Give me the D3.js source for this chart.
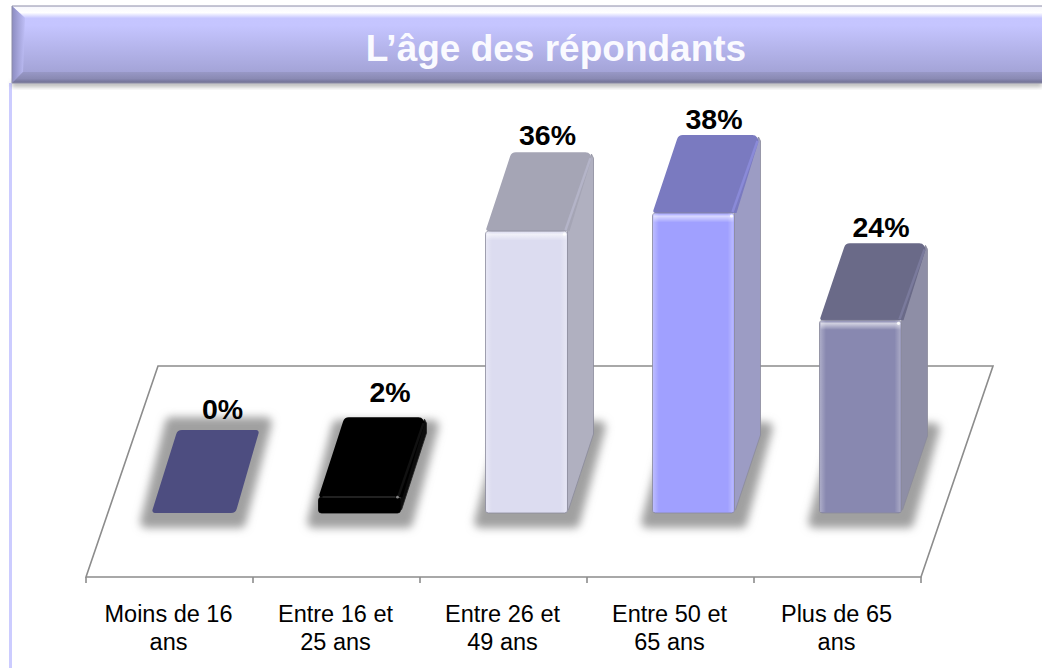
<!DOCTYPE html>
<html>
<head>
<meta charset="utf-8">
<script src="https://cdn.jsdelivr.net/npm/d3@7"></script>
<style>
  html, body { margin: 0; padding: 0; background: #fff; }
  svg { display: block; font-family: "Liberation Sans", Arial, sans-serif; }
</style>
</head>
<body>
<div id="chart"></div>
<script>
// Age of respondents, faux-3D bars on a sheared floor
const titleText = 'L’âge des répondants';
const categories = ['Moins de 16 ans', 'Entre 16 et 25 ans', 'Entre 26 et 49 ans', 'Entre 50 et 65 ans', 'Plus de 65 ans'];
const categoryLines = [['Moins de 16', 'ans'], ['Entre 16 et', '25 ans'], ['Entre 26 et', '49 ans'], ['Entre 50 et', '65 ans'], ['Plus de 65', 'ans']];
const percents = [0, 2, 35.7, 38, 24.4];

const frontColors = ['#4d4d80', '#000000', '#dcdcf0', '#a0a0ff', '#8888b0'];
const topColors = ['#4d4d80', '#000000', '#a5a5b5', '#7a7ac0', '#6a6a88'];
const sideColors = ['#4d4d80', '#0c0c0c', '#b0b0c0', '#9c9cc4', '#8e8ea6'];
const bevelColors = ['#4d4d80', '#111111', '#b4b4c8', '#8a8ad8', '#7a7a9c'];

// hand placement from the slide, the labels were nudged individually
const depths = [83, 80, 79, 78, 77];
const labelDx = [136.5, 137, 127.5, 127, 127];
const labelDy = [11, 15, 7, 6, 6];

const width = 1042, height = 668;
const floorY = 577, backY = 366, shear = 72;
const barBase = 513, depthX = 26, barW = 82, barInset = 65.5;

const svg = d3.select('#chart').append('svg').attr('width', width).attr('height', height);
const defs = svg.append('defs');

const x = d3.scaleBand().domain(categories).range([86, 921]);
const y = d3.scaleLinear().domain([0, 38]).range([barBase, 213]);

// polygon with a corner radius per vertex
function roundPoly(pts, radii) {
    const p = d3.path();
    const n = pts.length;
    const a0 = pts[n - 1], b0 = pts[0];
    p.moveTo((a0[0] + b0[0]) / 2, (a0[1] + b0[1]) / 2);
    pts.forEach((b, i) => {
        const c = pts[(i + 1) % n];
        p.arcTo(b[0], b[1], (b[0] + c[0]) / 2, (b[1] + c[1]) / 2, radii[i]);
    });
    p.closePath();
    return p.toString();
}

function gradient(id, stops, vertical) {
    const g = defs.append('linearGradient').attr('id', id)
        .attr('x1', 0).attr('y1', 0)
        .attr('x2', vertical ? 0 : 1).attr('y2', vertical ? 1 : 0);
    stops.forEach(s => g.append('stop').attr('offset', s[0]).attr('stop-color', s[1]).attr('stop-opacity', s[2] === undefined ? 1 : s[2]));
}

gradient('headerFill', [[0, '#c6c6ff'], [0.25, '#c5c5ff'], [1, '#9c9cce']], true);
gradient('headerTop', [[0, '#f6f6fc'], [0.55, '#ffffff'], [1, '#c8c8ff']], true);
gradient('headerLeft', [[0, '#8c8cc0'], [1, '#bebef6']], false);
gradient('headerBottom', [[0, '#9898c6'], [0.6, '#8a8ab4'], [1, '#6e6e90']], true);
gradient('edgeLight', [[0, '#ffffff', 0.3], [1, '#ffffff', 0]], false);
gradient('edgeLightR', [[0, '#ffffff', 0], [1, '#ffffff', 0.28]], false);
gradient('topLight', [[0, '#ffffff', 0], [0.3, '#ffffff', 0.6], [1, '#ffffff', 0]], true);

defs.append('filter').attr('id', 'blurShadow').attr('x', '-30%').attr('y', '-30%').attr('width', '160%').attr('height', '160%')
    .append('feGaussianBlur').attr('stdDeviation', 4);
defs.append('filter').attr('id', 'headerShadow').attr('x', '-5%').attr('y', '-50%').attr('width', '110%').attr('height', '200%')
    .append('feGaussianBlur').attr('stdDeviation', 2);

// page frame and header band
svg.append('rect').attr('x', 9).attr('y', 83).attr('width', 3).attr('height', height - 83).attr('fill', '#ccccff');

const head = svg.append('g');
head.append('rect').attr('x', 12).attr('y', 81).attr('width', 1030).attr('height', 6).attr('fill', '#777').attr('opacity', 0.5).attr('filter', 'url(#headerShadow)');
head.append('rect').attr('x', 12).attr('y', 6).attr('width', 1030).attr('height', 77).attr('fill', 'url(#headerFill)');
head.append('path').attr('d', 'M12,6 L1042,6 L1042,18 L25,18 Z').attr('fill', 'url(#headerTop)');
head.append('path').attr('d', 'M12,6 L25,18 L23,72 L12,83 Z').attr('fill', 'url(#headerLeft)');
head.append('path').attr('d', 'M12,83 L23,72 L1042,72 L1042,83 Z').attr('fill', 'url(#headerBottom)');
head.append('path').attr('d', 'M1042,6 L12,6 L12,83 L1042,83').attr('fill', 'none').attr('stroke', '#8c8ca8').attr('stroke-width', 1);
head.append('text').attr('x', 556).attr('y', 61).attr('text-anchor', 'middle')
    .attr('font-size', 37).attr('font-weight', 'bold').attr('fill', '#fafaff').text(titleText);

// floor
const floor = svg.append('g').attr('fill', 'none').attr('stroke', '#8c8c8c').attr('stroke-width', 1.6);
floor.append('path').attr('d', d3.line()([
    [x.range()[0], floorY], [x.range()[0] + shear, backY], [x.range()[1] + shear, backY], [x.range()[1], floorY]
]) + 'Z');

// category axis, ticks on the band edges
const ticks = categories.map(c => x(c)).concat(x.range()[1]);
floor.selectAll('line').data(ticks).enter().append('line')
    .attr('x1', d => d).attr('x2', d => d).attr('y1', floorY).attr('y2', floorY + 6);

svg.append('g').selectAll('text').data(categories).enter().append('text')
    .attr('text-anchor', 'middle').attr('font-size', 23.5).attr('fill', '#000')
    .attr('transform', d => `translate(${x(d) + x.bandwidth() / 2 - 1},0)`)
    .selectAll('tspan').data((d, i) => categoryLines[i]).enter().append('tspan')
    .attr('x', 0).attr('y', (d, i) => 622 + i * 28).text(d => d);

// bars
const bars = svg.append('g').selectAll('g').data(categories).enter().append('g');

// shadows first so no bar sits under another bar's shadow
bars.append('path')
    .attr('d', (d, i) => {
        const l = x(d) + barInset, r = l + barW, dy = depths[i];
        return roundPoly([
            [l - 13, barBase + 15], [r + 11, barBase + 15],
            [r + depthX + 14, barBase - dy - 13], [l + depthX - 11, barBase - dy - 13]
        ], [6, 6, 6, 6]);
    })
    .attr('fill', '#a0a0a0').attr('filter', 'url(#blurShadow)');

bars.each(function (d, i) {
    const g = d3.select(this);
    const l = x(d) + barInset, r = l + barW;
    const t = y(percents[i]);
    const dy = depths[i];
    if (percents[i] > 0) {
        // corners here are very acute, a real radius would eat the edge
        g.append('path')
            .attr('d', roundPoly([
                [r, barBase], [r, t], [r + depthX - 2, t - dy + 2], [r + depthX, t - dy + 6], [r + depthX, barBase - dy]
            ], [0.6, 0, 0, 0, 0]))
            .attr('fill', sideColors[i]).attr('stroke', i === 1 ? '#222' : '#8a8a9a').attr('stroke-width', 0.8);
    }
    const rr = percents[i] > 0 ? [2, 0, 6, 6] : [2.5, 6, 2.5, 6];
    g.append('path')
        .attr('d', roundPoly([[l, t], [r + 2, t], [r + depthX, t - dy], [l + depthX, t - dy]], rr))
        .attr('fill', topColors[i]);
    if (percents[i] > 0) {
        g.append('line').attr('x1', r + depthX - 3).attr('y1', t - dy + 6).attr('x2', r - 2).attr('y2', t - 1)
            .attr('stroke', bevelColors[i]).attr('stroke-width', 2.5);
        g.append('rect').attr('x', l).attr('y', t).attr('width', barW).attr('height', barBase - t)
            .attr('rx', 3).attr('fill', frontColors[i]).attr('stroke', i === 1 ? '#000' : '#8a8a9a').attr('stroke-width', 0.8);
        // bevel highlights
        if (i !== 1) {
            g.append('rect').attr('x', l + 0.5).attr('y', t).attr('width', 6).attr('height', barBase - t - 1).attr('fill', 'url(#edgeLight)');
            g.append('rect').attr('x', r - 7).attr('y', t).attr('width', 6).attr('height', barBase - t - 1).attr('fill', 'url(#edgeLightR)');
            g.append('rect').attr('x', l + 1).attr('y', t + 0.5).attr('width', barW - 2).attr('height', 9).attr('fill', 'url(#topLight)');
            g.append('circle').attr('cx', r - 3).attr('cy', t + 3).attr('r', 1.6).attr('fill', '#ffffff').attr('opacity', 0.85);
        } else {
            g.append('rect').attr('x', l + 4).attr('y', t - 1).attr('width', barW - 9).attr('height', 1.5).attr('fill', '#2a2a2a');
            g.append('circle').attr('cx', r - 3).attr('cy', t).attr('r', 1.4).attr('fill', '#888');
        }
    }
});

// value labels above the back edge of each bar
svg.append('g').selectAll('text').data(categories).enter().append('text')
    .attr('x', (d, i) => x(d) + labelDx[i])
    .attr('y', (d, i) => y(percents[i]) - depths[i] - labelDy[i])
    .attr('text-anchor', 'middle').attr('font-size', 28.5).attr('font-weight', 'bold').attr('fill', '#000')
    .text((d, i) => d3.format('.0f')(percents[i]) + '%');
</script>
</body>
</html>
